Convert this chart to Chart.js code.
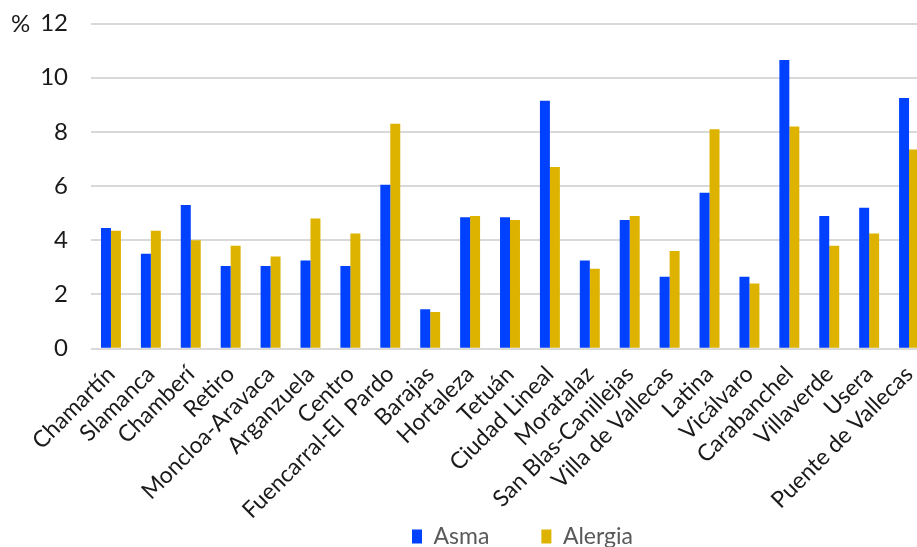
<!DOCTYPE html>
<html>
<head>
<meta charset="utf-8">
<script src="https://cdn.jsdelivr.net/npm/chart.js@4"></script>
<style>
  html, body { margin: 0; padding: 0; overflow: hidden; background: #fff; }
  #wrap { position: relative; width: 929px; height: 613px; }
</style>
</head>
<body>
<div id="wrap"><canvas id="chart"></canvas></div>
<script>
const districts = [
  "Chamartín", "Slamanca", "Chamberí", "Retiro", "Moncloa-Aravaca", "Arganzuela",
  "Centro", "Fuencarral-El  Pardo", "Barajas", "Hortaleza", "Tetuán", "Ciudad Lineal",
  "Moratalaz", "San Blas-Canillejas", "Villa de Vallecas", "Latina", "Vicálvaro",
  "Carabanchel", "Villaverde", "Usera", "Puente de Vallecas"
];
const asma = [4.45, 3.5, 5.3, 3.05, 3.05, 3.25, 3.05, 6.05, 1.45, 4.85, 4.85, 9.15,
  3.25, 4.75, 2.65, 5.75, 2.65, 10.65, 4.9, 5.2, 9.25];
const alergia = [4.35, 4.35, 4.0, 3.8, 3.4, 4.8, 4.25, 8.3, 1.35, 4.9, 4.75, 6.7,
  2.95, 4.9, 3.6, 8.1, 2.4, 8.2, 3.8, 4.25, 7.35];
const yTicks = [0, 2, 4, 6, 8, 10, 12];

const FONT = "Lato, 'Noto Sans', sans-serif";

// the "%" unit sits left of the top tick
const unitLabel = {
  id: "unitLabel",
  afterDraw(chart) {
    const { ctx, scales } = chart;
    ctx.save();
    ctx.font = "24px " + FONT;
    ctx.fillStyle = "#1a1a1a";
    ctx.textBaseline = "middle";
    ctx.fillText("%", 11, scales.y.getPixelForValue(12) + 1);
    ctx.restore();
  }
};

// legend sits just under the rotated labels, a bit right of centre
const legendPlace = {
  id: "legendPlace",
  afterLayout(chart) {
    const lg = chart.legend;
    const h = lg.bottom - lg.top;
    lg.left += 12.5;
    lg.right += 12.5;
    lg.top = 473;
    lg.bottom = 473 + h;
  }
};

new Chart(document.getElementById("chart"), {
  type: "bar",
  data: {
    labels: districts,
    datasets: [
      { label: "Asma", data: asma, backgroundColor: "#0041FF" },
      { label: "Alergia", data: alergia, backgroundColor: "#DDB300" }
    ]
  },
  options: {
    responsive: true,
    maintainAspectRatio: false,
    animation: false,
    categoryPercentage: 0.5,
    barPercentage: 1.0,
    layout: { padding: { top: 23.5, left: 0, right: 0, bottom: 0 } },
    plugins: {
      legend: {
        position: "bottom",
        fullSize: false,
        labels: {
          font: { family: FONT, size: 23 },
          color: "#595959",
          boxWidth: 10,
          boxHeight: 14,
          padding: 52
        }
      },
      tooltip: { enabled: false }
    },
    scales: {
      x: {
        afterFit(axis) { axis.paddingLeft = 0; axis.paddingRight = 0; },
        grid: { display: false },
        border: { display: false },
        ticks: {
          font: { family: FONT, size: 23 },
          color: "#1a1a1a",
          minRotation: 45,
          maxRotation: 45,
          autoSkip: false,
          padding: 4
        }
      },
      y: {
        min: 0,
        max: 12,
        afterBuildTicks(axis) { axis.ticks = yTicks.map(v => ({ value: v })); },
        afterFit(axis) { axis.width = 91; axis.paddingTop = 0; axis.paddingBottom = 0; },
        grid: { color: "#d9d9d9", lineWidth: 2, drawTicks: false },
        border: { display: false },
        ticks: {
          font: { family: FONT, size: 24 },
          color: "#1a1a1a",
          padding: 23
        }
      }
    }
  },
  plugins: [unitLabel, legendPlace]
});
</script>
</body>
</html>
